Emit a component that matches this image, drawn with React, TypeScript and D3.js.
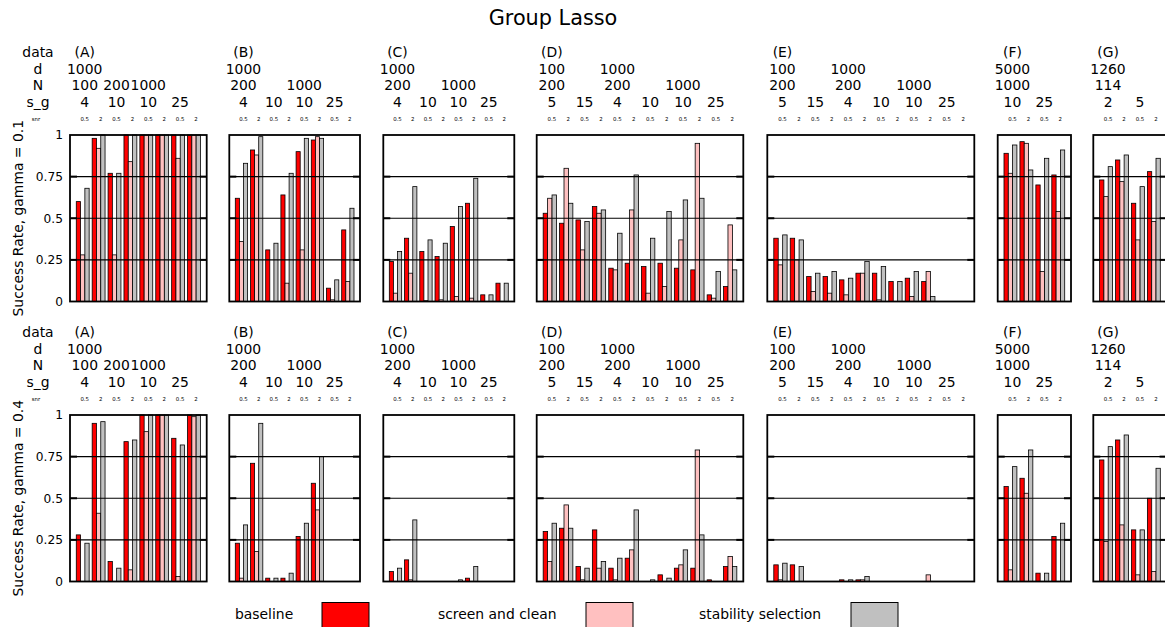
import React from "react";
import * as d3 from "d3";

// ---------- data ----------
const panelNames = ["(A)", "(B)", "(C)", "(D)", "(E)", "(F)", "(G)"];
const groupCounts = [8, 8, 8, 12, 12, 4, 4];

// header rows: [label, first group index within panel]
const dHeader: [string, number][][] = [
  [["1000", 0]], [["1000", 0]], [["1000", 0]],
  [["100", 0], ["1000", 4]], [["100", 0], ["1000", 4]],
  [["5000", 0]], [["1260", 0]],
];
const nHeader: [string, number][][] = [
  [["100", 0], ["200", 2], ["1000", 4]],
  [["200", 0], ["1000", 4]],
  [["200", 0], ["1000", 4]],
  [["200", 0], ["200", 4], ["1000", 8]],
  [["200", 0], ["200", 4], ["1000", 8]],
  [["1000", 0]], [["114", 0]],
];
const sgHeader: [string, number][][] = [
  [["4", 0], ["10", 2], ["10", 4], ["25", 6]],
  [["4", 0], ["10", 2], ["10", 4], ["25", 6]],
  [["4", 0], ["10", 2], ["10", 4], ["25", 6]],
  [["5", 0], ["15", 2], ["4", 4], ["10", 6], ["10", 8], ["25", 10]],
  [["5", 0], ["15", 2], ["4", 4], ["10", 6], ["10", 8], ["25", 10]],
  [["10", 0], ["25", 2]],
  [["2", 0], ["5", 2]],
];
const snrLabels = ["0.5", "2"];

// gamma = 0.1 (56 groups: A8 B8 C8 D12 E12 F4 G4)
const baselineG01 = [
  0.60, 0.98, 0.77, 1, 1, 1, 1, 1,
  0.62, 0.91, 0.31, 0.64, 0.90, 0.97, 0.08, 0.43,
  0.24, 0.38, 0.30, 0.27, 0.45, 0.59, 0.04, 0.11,
  0.53, 0.47, 0.49, 0.57, 0.20, 0.23, 0.21, 0.23, 0.20, 0.19, 0.04, 0.09,
  0.38, 0.38, 0.15, 0.15, 0.13, 0.17, 0.17, 0.12, 0.14, 0.12, 0, 0,
  0.89, 0.96, 0.70, 0.76,
  0.73, 0.85, 0.59, 0.78,
];
const screenG01 = [
  0.28, 0.92, 0.28, 0.84, 1, 1, 0.86, 1,
  0.36, 0.88, 0, 0.11, 0.31, 0.99, 0.01, 0.12,
  0.05, 0.17, 0.005, 0.01, 0.03, 0.02, 0, 0,
  0.62, 0.80, 0.31, 0.53, 0.19, 0.55, 0.05, 0.09, 0.37, 0.95, 0.02, 0.46,
  0.22, 0.25, 0.06, 0.05, 0.04, 0.17, 0.01, 0, 0.03, 0.18, 0, 0,
  0.77, 0.95, 0.18, 0.54,
  0.63, 0.72, 0.37, 0.48,
];
const stabilityG01 = [
  0.68, 1, 0.77, 1, 1, 1, 1, 1,
  0.83, 0.99, 0.35, 0.77, 0.98, 0.98, 0.13, 0.56,
  0.30, 0.69, 0.37, 0.35, 0.57, 0.74, 0.04, 0.11,
  0.64, 0.59, 0.48, 0.55, 0.41, 0.76, 0.38, 0.54, 0.61, 0.62, 0.18, 0.19,
  0.40, 0.37, 0.17, 0.18, 0.14, 0.24, 0.21, 0.12, 0.18, 0.03, 0, 0,
  0.94, 0.79, 0.86, 0.91,
  0.81, 0.88, 0.69, 0.86,
];

// gamma = 0.4
const baselineG04 = [
  0.28, 0.95, 0.12, 0.84, 1, 1, 0.86, 1,
  0.23, 0.71, 0.02, 0.02, 0.27, 0.59, 0, 0,
  0.06, 0.13, 0, 0, 0, 0.02, 0, 0,
  0.30, 0.32, 0.09, 0.31, 0.08, 0.14, 0, 0.04, 0.08, 0.08, 0.01, 0.09,
  0.10, 0.10, 0, 0, 0.01, 0.01, 0, 0, 0, 0, 0, 0,
  0.57, 0.62, 0.05, 0.27,
  0.73, 0.85, 0.31, 0.50,
];
const screenG04 = [
  0, 0.41, 0, 0.07, 0.90, 1, 0.03, 0.99,
  0.02, 0.18, 0, 0, 0, 0.43, 0, 0,
  0, 0.01, 0, 0, 0, 0, 0, 0,
  0.12, 0.46, 0.01, 0.08, 0.01, 0.19, 0, 0, 0.10, 0.79, 0, 0.15,
  0.01, 0, 0, 0, 0, 0.01, 0, 0, 0, 0.04, 0, 0,
  0.07, 0.53, 0, 0,
  0.24, 0.34, 0.04, 0.06,
];
const stabilityG04 = [
  0.23, 0.96, 0.08, 0.85, 1, 1, 0.82, 1,
  0.34, 0.95, 0.02, 0.05, 0.35, 0.75, 0, 0,
  0.08, 0.37, 0, 0, 0.01, 0.09, 0, 0,
  0.35, 0.32, 0.08, 0.12, 0.14, 0.43, 0.01, 0.02, 0.19, 0.28, 0, 0.09,
  0.11, 0.09, 0, 0, 0.01, 0.03, 0, 0, 0, 0, 0, 0,
  0.69, 0.79, 0.05, 0.35,
  0.81, 0.88, 0.31, 0.68,
];

const yTicks = [0, 0.25, 0.5, 0.75, 1];
const yTickLabels = ["0", "0.25", "0.5", "0.75", "1"];
const methods = ["baseline", "screen and clean", "stability selection"];
const rowLabels = ["Success Rate, gamma = 0.1", "Success Rate, gamma = 0.4"];

// ---------- layout / style ----------
const W = 1165, H = 627;
const FONT = "DejaVu Sans, sans-serif";
const colors = ["#ff0000", "#ffc0c0", "#c0c0c0"];
const panelX0 = [70, 229.3, 383.3, 536.7, 767.3, 997.7, 1093.3];
const panelX1 = [206.7, 360, 514.3, 743.3, 974.3, 1071, 1166.6];
const rowTop = [135, 415];
const rowBottom = [301.5, 581.5];
const headerBase = [57.3, 337.3];
const headerStep = 16.5;
const legendTextX = [235, 438, 699];
const legendRectX = [322, 586, 851];
const BW = 0.27;

export default function App() {
  const starts = Array.from(d3.cumsum([0, ...groupCounts]));
  const rowData = [
    [baselineG01, screenG01, stabilityG01],
    [baselineG04, screenG04, stabilityG04],
  ];

  return (
    <svg width={W} height={H} style={{ position: "absolute", left: 0, top: 0, background: "#fff" }} fontFamily={FONT}>
      <rect x={0} y={0} width={W} height={H} fill="#fff" />
      <text x={553} y={25} fontSize={20.8} textAnchor="middle">Group Lasso</text>

      {rowData.map((series, r) => {
        const y = d3.scaleLinear().domain([0, 1]).range([rowBottom[r], rowTop[r]]);
        const hb = headerBase[r];
        const yc = (rowTop[r] + rowBottom[r]) / 2;
        return (
          <g key={r}>
            {/* left header labels */}
            {["data", "d", "N", "s_g"].map((t, k) => (
              <text key={t} x={38} y={hb + k * headerStep} fontSize={13.9} textAnchor="middle">{t}</text>
            ))}
            <text x={36} y={hb + 3 * headerStep + 14} fontSize={5.4} textAnchor="middle">snr</text>
            {/* y label */}
            <text transform={`translate(18,${yc}) rotate(-90)`} dy="0.35em" fontSize={13.9} textAnchor="middle">{rowLabels[r]}</text>
            {/* y tick labels */}
            {yTicks.map((v, k) => (
              <text key={k} x={63} y={y(v)} dy="0.35em" fontSize={12.2} textAnchor="end">{yTickLabels[k]}</text>
            ))}

            {groupCounts.map((n, p) => {
              const x = d3.scaleLinear().domain([-0.8, n - 1 + 0.8]).range([panelX0[p], panelX1[p]]);
              const s0 = starts[p];
              const groups = d3.range(n);
              const lx = (g: number) => x(g) + 2;
              return (
                <g key={p}>
                  {/* headers */}
                  <text x={lx(0)} y={hb} fontSize={13.9} textAnchor="middle">{panelNames[p]}</text>
                  {dHeader[p].map(([t, g], k) => (
                    <text key={"d" + k} x={lx(g)} y={hb + headerStep} fontSize={13.9} textAnchor="middle">{t}</text>
                  ))}
                  {nHeader[p].map(([t, g], k) => (
                    <text key={"n" + k} x={lx(g)} y={hb + 2 * headerStep} fontSize={13.9} textAnchor="middle">{t}</text>
                  ))}
                  {sgHeader[p].map(([t, g], k) => (
                    <text key={"s" + k} x={lx(g)} y={hb + 3 * headerStep} fontSize={13.9} textAnchor="middle">{t}</text>
                  ))}
                  {groups.map((g) => (
                    <text key={"snr" + g} x={lx(g)} y={hb + 3 * headerStep + 14} fontSize={5.4} textAnchor="middle">{snrLabels[g % 2]}</text>
                  ))}

                  {/* bars */}
                  {groups.map((g) =>
                    series.map((arr, m) => {
                      const v = arr[s0 + g];
                      const c = g + (m - 1) * BW;
                      const xa = x(c - BW / 2);
                      const xb = x(c + BW / 2);
                      return (
                        <rect key={g + "-" + m} x={xa} y={y(v)} width={xb - xa} height={y(0) - y(v)}
                          fill={colors[m]} stroke="#000" strokeWidth={0.8} />
                      );
                    })
                  )}

                  {/* grid lines (drawn over bars) */}
                  {[0.25, 0.5, 0.75].map((v) => (
                    <g key={v}>
                      <line x1={panelX0[p]} x2={panelX1[p]} y1={y(v)} y2={y(v)} stroke="#000" strokeWidth={1.2} />
                      <line x1={panelX0[p]} x2={panelX0[p] + 7} y1={y(v)} y2={y(v)} stroke="#000" strokeWidth={2} />
                      <line x1={panelX1[p] - 7} x2={panelX1[p]} y1={y(v)} y2={y(v)} stroke="#000" strokeWidth={2} />
                    </g>
                  ))}
                  {/* frame */}
                  <rect x={panelX0[p]} y={rowTop[r]} width={panelX1[p] - panelX0[p]} height={rowBottom[r] - rowTop[r]}
                    fill="none" stroke="#000" strokeWidth={1.8} />
                </g>
              );
            })}
          </g>
        );
      })}

      {/* legend */}
      {methods.map((m, k) => (
        <g key={m}>
          <text x={legendTextX[k]} y={619} fontSize={13.9}>{m}</text>
          <rect x={legendRectX[k]} y={602.5} width={47} height={30} fill={colors[k]} stroke="#000" strokeWidth={1} />
        </g>
      ))}
    </svg>
  );
}
